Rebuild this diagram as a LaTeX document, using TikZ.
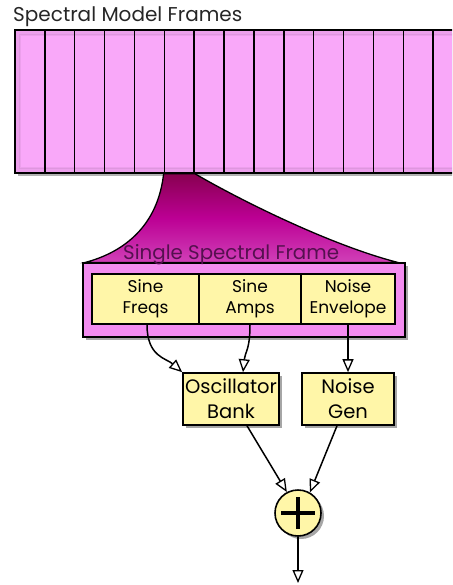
\documentclass[tikz,border=0pt]{standalone}
\usepackage{fontspec}
\setmainfont{Poppins}
\usetikzlibrary{arrows.meta,shadows,calc}
\definecolor{framepink}{HTML}{F9A8F9}
\definecolor{outerpink}{HTML}{F38CF0}
\definecolor{boxyellow}{HTML}{FFF6A8}
\definecolor{darkmag}{HTML}{880050}
\definecolor{midmag}{HTML}{BC0094}
\definecolor{lowmag}{HTML}{D040B8}
\definecolor{labelpurple}{HTML}{55104F}
\tikzset{
  opentip/.tip={Triangle[open, length=13pt, width=11pt, line width=1.3pt]}
}
\begin{document}
\begin{tikzpicture}[x=1pt,y=-1pt,
  framebox/.style={draw=black, line width=1.5pt, fill=framepink, minimum width=29.87pt, minimum height=143pt, inner sep=0pt},
  ybox/.style={draw=black, line width=1.6pt, fill=boxyellow, align=center, inner sep=0pt, text=black},
  smallfont/.style={font=\fontsize{17}{21}\selectfont},
  bigfont/.style={font=\fontsize{19.5}{25}\selectfont},
  shadowed/.style={drop shadow={shadow xshift=3pt, shadow yshift=-3pt, opacity=0.35, fill=black}},
  arr/.style={line width=1.5pt, arrows={-Triangle[open, length=13pt 0 1, width=11pt 0 1, line width=1.3pt]}}
]
\useasboundingbox (0,0) rectangle (452,585);
\clip (0,0) rectangle (452,585);

% title
\node[anchor=base west, font=\fontsize{20}{24}\selectfont, inner sep=0pt, text=black!85] (title) at (13,22) {Spectral Model Frames};

% strip of frames
\fill[black, opacity=0.3] (18,33) rectangle (470,176);
\foreach \i in {0,...,15} {
  \node[framebox] (f\i) at ({15+29.87*\i+14.935},101.5) {};
}
\foreach \k in {1,2,3} {
  \draw[black, opacity=0.05, line width=2pt] ({15+\k*1.8},{30+\k*1.8}) rectangle (480,{173-\k*1.8});
}

% funnel
\path[draw=black, line width=1.3pt, top color=darkmag, bottom color=lowmag, middle color=midmag]
  (f5.south west) .. controls (158,225) and (125,252) .. (85,262.5)
  -- (398,262.5) .. controls (330,245) and (240,200) .. (f5.south east) -- cycle;

% single frame
\node[draw=black, line width=1.8pt, fill=outerpink, minimum width=322pt, minimum height=74pt, inner sep=0pt, shadowed] (single) at (244,300) {};
\node[anchor=base west, inner sep=0pt, font=\fontsize{19.8}{22}\selectfont, text=labelpurple] (singlelabel) at (123,259) {Single Spectral Frame};

\node[ybox, smallfont, minimum width=107pt, minimum height=50pt] (sinef) at (145.5,299) {Sine\\Freqs};
\node[ybox, smallfont, minimum width=102pt, minimum height=50pt] (sinea) at (250,299) {Sine\\Amps};
\node[ybox, smallfont, minimum width=94pt, minimum height=50pt] (noise) at (348,299) {Noise\\Envelope};

\node[ybox, bigfont, minimum width=96pt, minimum height=52pt, shadowed] (osc) at (231,399) {Oscillator\\Bank};
\node[ybox, bigfont, minimum width=92pt, minimum height=52pt, shadowed] (ngen) at (348,399) {Noise\\Gen};

\node[circle, draw=black, line width=1.6pt, fill=boxyellow, minimum size=46pt, inner sep=0pt, shadowed] (sum) at (298,513) {};
\draw[line width=4pt] ($(sum.center)+(-17,0)$) -- ($(sum.center)+(17,0)$);
\draw[line width=4pt] ($(sum.center)+(0,-16)$) -- ($(sum.center)+(0,16)$);

\coordinate (out) at (298,583);

% connectors
\draw[arr] ($(sinef.south)+(1.5,0)$) .. controls +(0,32) and +(-16,-14) .. (osc.north west);
\draw[arr] (sinea.south) .. controls +(0,25) and +(2,-20) .. ($(osc.north)+(12,0)$);
\draw[arr] (noise.south) -- (ngen.north);
\draw[arr] ($(osc.south)+(16,0)$) -- (sum.118);
\draw[arr] ($(ngen.south)+(-11,0)$) -- (sum.60);
\draw[arr] (sum.south) -- (out);
\end{tikzpicture}
\end{document}
